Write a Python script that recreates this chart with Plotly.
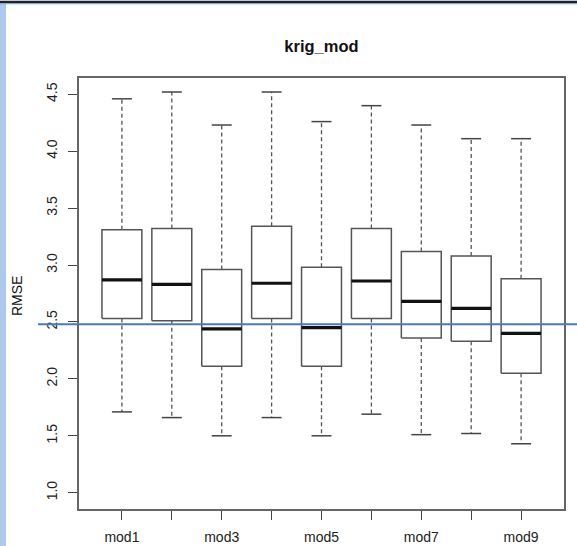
import plotly.graph_objects as go

# Five-number summaries of RMSE for each kriging model
models = ["mod1", "mod2", "mod3", "mod4", "mod5", "mod6", "mod7", "mod8", "mod9"]
lower_whisker = [1.71, 1.66, 1.50, 1.66, 1.50, 1.69, 1.51, 1.52, 1.43]
q1 = [2.53, 2.51, 2.11, 2.53, 2.11, 2.53, 2.36, 2.33, 2.05]
median = [2.87, 2.83, 2.44, 2.84, 2.45, 2.86, 2.68, 2.62, 2.40]
q3 = [3.31, 3.32, 2.96, 3.34, 2.98, 3.32, 3.12, 3.08, 2.88]
upper_whisker = [4.46, 4.52, 4.23, 4.52, 4.26, 4.40, 4.23, 4.11, 4.11]
reference_rmse = 2.48
y_ticks = [1.0, 1.5, 2.0, 2.5, 3.0, 3.5, 4.0, 4.5]

FONT = "Liberation Sans, Arial, sans-serif"
HALF_BOX = 0.4
HALF_CAP = 0.2
positions = list(range(1, len(models) + 1))

box_x, box_y = [], []
med_x, med_y = [], []
wh_x, wh_y = [], []
cap_x, cap_y = [], []
for p, lo, a, m, b, hi in zip(positions, lower_whisker, q1, median, q3, upper_whisker):
    box_x += [p - HALF_BOX, p + HALF_BOX, p + HALF_BOX, p - HALF_BOX, p - HALF_BOX, None]
    box_y += [a, a, b, b, a, None]
    med_x += [p - HALF_BOX, p + HALF_BOX, None]
    med_y += [m, m, None]
    wh_x += [p, p, None, p, p, None]
    wh_y += [b, hi, None, a, lo, None]
    cap_x += [p - HALF_CAP, p + HALF_CAP, None, p - HALF_CAP, p + HALF_CAP, None]
    cap_y += [hi, hi, None, lo, lo, None]

fig = go.Figure()
fig.add_trace(go.Scatter(x=wh_x, y=wh_y, mode="lines", hoverinfo="skip",
                         line=dict(color="#555555", width=1.3, dash="4px,3px")))
fig.add_trace(go.Scatter(x=cap_x, y=cap_y, mode="lines", hoverinfo="skip",
                         line=dict(color="#444444", width=1.5)))
fig.add_trace(go.Scatter(x=box_x, y=box_y, mode="lines", hoverinfo="skip",
                         fill="toself", fillcolor="white",
                         line=dict(color="#555555", width=1.5)))
fig.add_trace(go.Scatter(x=med_x, y=med_y, mode="lines", hoverinfo="skip",
                         line=dict(color="#111111", width=3.2)))

L, R, T, B = 79, 13, 78, 37
W, H = 577, 546
pw, ph = W - L - R, H - T - B

def px_x(px):
    return (px - L) / pw

def px_y(py):
    return (H - B - py) / ph

shapes = [
    # window chrome: left strip and top rule
    dict(type="rect", xref="paper", yref="paper", x0=px_x(0), x1=px_x(6),
         y0=px_y(546), y1=px_y(4), fillcolor="#afc7ea", line=dict(width=0), layer="below"),
    dict(type="rect", xref="paper", yref="paper", x0=px_x(0), x1=px_x(577),
         y0=px_y(3), y1=px_y(0.8), fillcolor="#222222", line=dict(width=0)),
    dict(type="rect", xref="paper", yref="paper", x0=px_x(0), x1=px_x(577),
         y0=px_y(4.2), y1=px_y(3), fillcolor="#86a8da", line=dict(width=0)),
    # reference RMSE level
    dict(type="line", xref="paper", yref="y", x0=px_x(38), x1=px_x(577),
         y0=reference_rmse, y1=reference_rmse, line=dict(color="#4a7ab8", width=2)),
]

fig.update_layout(
    width=W, height=H,
    margin=dict(l=L, r=R, t=T, b=B, autoexpand=False),
    paper_bgcolor="white", plot_bgcolor="white",
    showlegend=False,
    font=dict(family=FONT, size=14, color="#222222"),
    title=dict(text="<b>krig_mod</b>", x=0.5, xref="paper", y=1 - 46 / H,
               yanchor="middle", xanchor="center",
               font=dict(family=FONT, size=16.5, color="#111111")),
    shapes=shapes,
    annotations=[dict(text="RMSE", xref="paper", yref="paper", x=px_x(17), y=px_y(296),
                      xanchor="center", yanchor="middle",
                      showarrow=False, textangle=-90, font=dict(family=FONT, size=14, color="#111111"))],
)
fig.update_xaxes(
    range=[0.14, 9.86], tickvals=positions, automargin=False,
    ticktext=[m if i % 2 == 0 else "" for i, m in enumerate(models)],
    ticks="outside", ticklen=9, tickwidth=1.2, tickcolor="#444444", ticklabelstandoff=5,
    showline=True, mirror=True, linecolor="#666666", linewidth=1.5,
    showgrid=False, zeroline=False, tickfont=dict(size=14, color="#222222"),
)
fig.update_yaxes(
    range=[0.857, 4.643], tickvals=y_ticks, tickformat=".1f", tickangle=-90, automargin=False,
    ticks="outside", ticklen=9, tickwidth=1.2, tickcolor="#444444", ticklabelstandoff=6,
    showline=True, mirror=True, linecolor="#666666", linewidth=1.5,
    showgrid=False, zeroline=False, tickfont=dict(size=14, color="#222222"),
)

fig.write_html("out.html")
